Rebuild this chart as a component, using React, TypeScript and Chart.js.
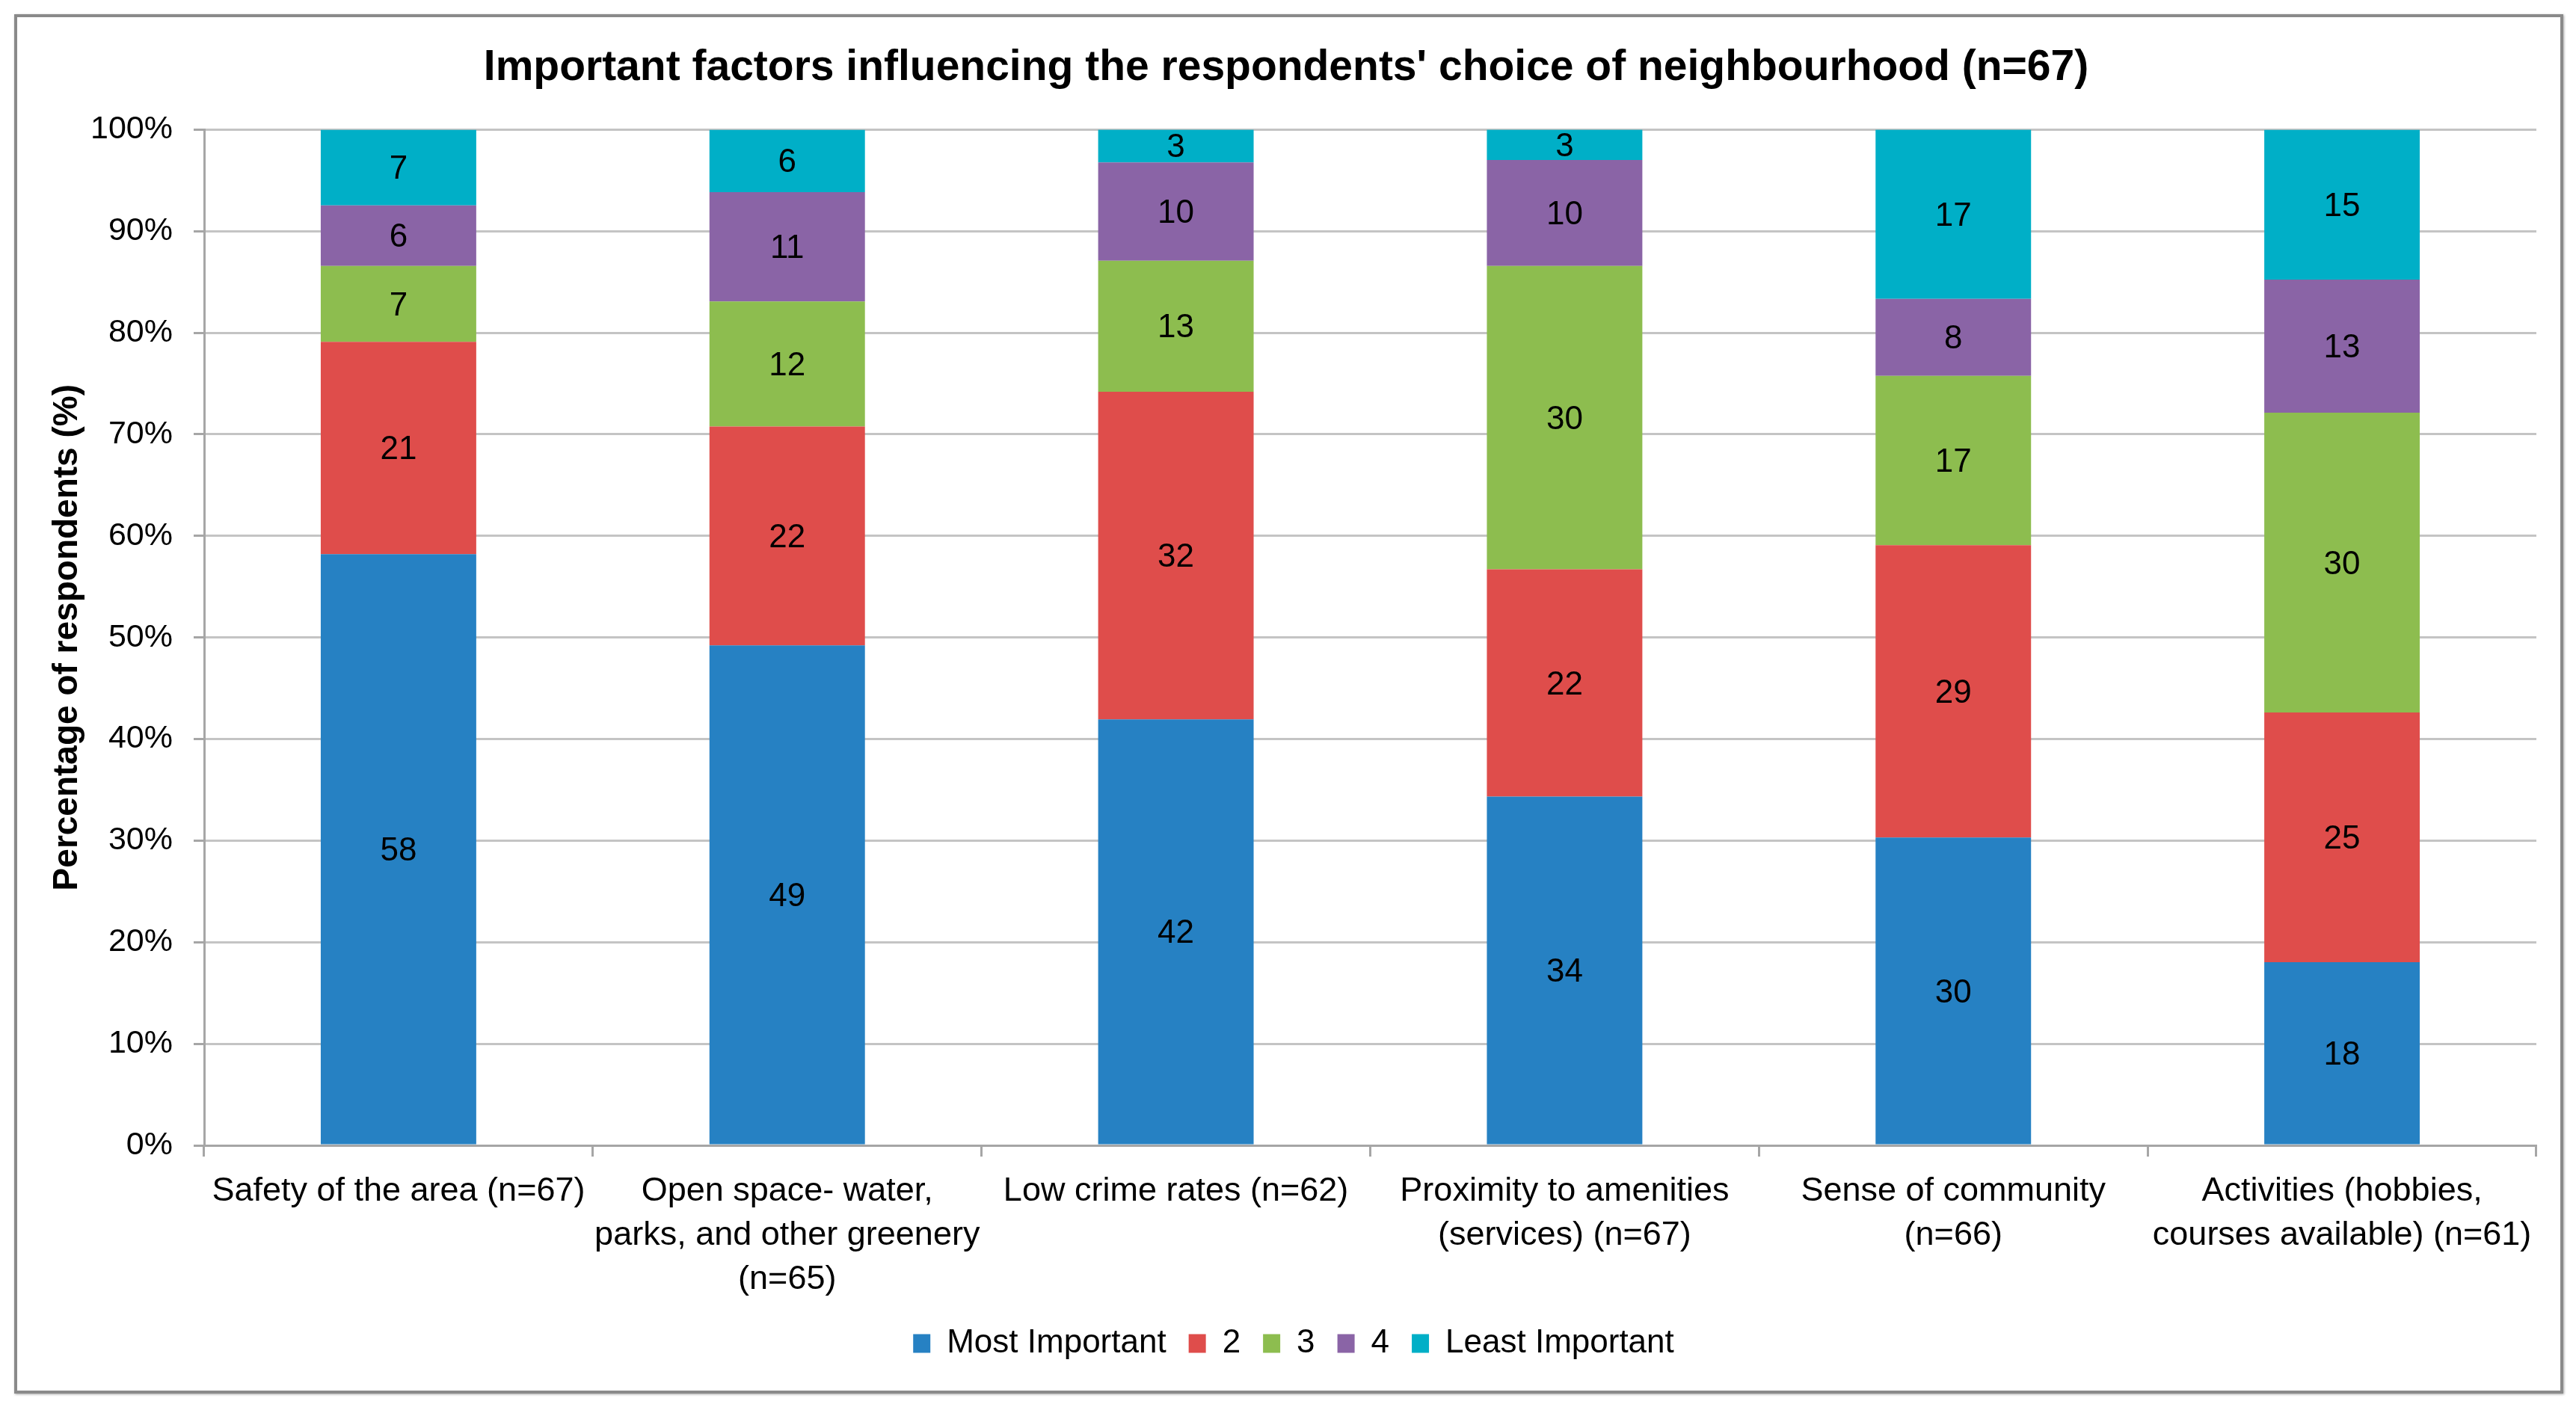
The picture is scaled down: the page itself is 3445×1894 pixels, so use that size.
import { useEffect, useRef } from "react";
import { Chart, registerables } from "chart.js";
import type { Plugin } from "chart.js";

Chart.register(...registerables);

const W = 3445;
const H = 1894;
const FONT = "'Liberation Sans', Arial, sans-serif";

const categories: (string | string[])[] = [
  "Safety of the area (n=67)",
  ["Open space- water,", "parks, and other greenery", "(n=65)"],
  "Low crime rates (n=62)",
  ["Proximity to amenities", "(services) (n=67)"],
  ["Sense of community", "(n=66)"],
  ["Activities (hobbies,", "courses available) (n=61)"],
];

// share of respondents per rank, in %
const mostImportant = [58.21, 49.23, 41.94, 34.33, 30.3, 18.03];
const rank2 = [20.9, 21.54, 32.26, 22.39, 28.79, 24.59];
const rank3 = [7.46, 12.31, 12.9, 29.85, 16.67, 29.51];
const rank4 = [5.97, 10.77, 9.68, 10.45, 7.58, 13.11];
const leastImportant = [7.46, 6.15, 3.23, 2.99, 16.67, 14.75];

const seriesNames = ["Most Important", "2", "3", "4", "Least Important"];
const seriesColors = ["#2681C3", "#DF4D4B", "#8DBD4F", "#8A64A6", "#00AFC7"];

const segmentLabels: Plugin<"bar"> = {
  id: "segmentLabels",
  afterDatasetsDraw(chart) {
    const ctx = chart.ctx;
    ctx.save();
    ctx.font = `44px ${FONT}`;
    ctx.fillStyle = "#000";
    ctx.textAlign = "center";
    ctx.textBaseline = "middle";
    chart.data.datasets.forEach((ds, i) => {
      const meta = chart.getDatasetMeta(i);
      meta.data.forEach((bar, j) => {
        const { x, y, base } = bar.getProps(["x", "y", "base"], true) as any;
        const v = ds.data[j] as number;
        ctx.fillText(String(Math.round(v)), x, (y + base) / 2 + 3);
      });
    });
    ctx.restore();
  },
};

// nudge title and legend to the frame's centre, like the original
const centreBoxes: Plugin<"bar"> = {
  id: "centreBoxes",
  afterLayout(chart) {
    const c = chart as any;
    if (c.legend) {
      c.legend.left += 24;
      c.legend.right += 24;
    }
    if (c.titleBlock) {
      c.titleBlock.left += 14;
      c.titleBlock.right += 14;
    }
  },
};

export default function App() {
  const canvasRef = useRef<HTMLCanvasElement>(null);
  const chartRef = useRef<Chart | null>(null);

  useEffect(() => {
    if (!canvasRef.current) return;
    chartRef.current?.destroy();

    const values = [mostImportant, rank2, rank3, rank4, leastImportant];
    chartRef.current = new Chart(canvasRef.current, {
      type: "bar",
      data: {
        labels: categories,
        datasets: seriesNames.map((name, i) => ({
          label: name,
          data: values[i],
          backgroundColor: seriesColors[i],
          borderWidth: 0,
          categoryPercentage: 1,
          barPercentage: 0.4,
        })),
      },
      options: {
        responsive: false,
        animation: false,
        devicePixelRatio: 1,
        layout: { padding: { top: 20, left: 20, right: 53, bottom: 65 } },
        scales: {
          x: {
            stacked: true,
            grid: {
              offset: true,
              drawOnChartArea: false,
              tickLength: 15,
              tickWidth: 3,
              tickColor: "#A6A6A6",
            },
            border: { color: "#A6A6A6", width: 3 },
            ticks: {
              color: "#000",
              padding: 17,
              maxRotation: 0,
              autoSkip: false,
              font: { family: FONT, size: 45, lineHeight: 1.31 },
            },
            afterFit: (scale) => {
              scale.height = 213;
            },
          },
          y: {
            stacked: true,
            min: 0,
            max: 100,
            grid: {
              color: "#C4C4C4",
              lineWidth: 3,
              tickLength: 14,
              tickColor: "#A6A6A6",
            },
            border: { color: "#A6A6A6", width: 3 },
            ticks: {
              stepSize: 10,
              color: "#000",
              padding: 28,
              font: { family: FONT, size: 43 },
              callback: (v) => `${v}%`,
            },
            title: {
              display: true,
              text: "Percentage of respondents (%)",
              color: "#000",
              padding: { top: 43, bottom: 0 },
              font: { family: FONT, size: 46, weight: "bold", lineHeight: 1.2 },
            },
            afterFit: (scale) => {
              scale.width = 253;
            },
          },
        },
        plugins: {
          title: {
            display: true,
            text: "Important factors influencing the respondents' choice of neighbourhood (n=67)",
            color: "#000",
            padding: { top: 37, bottom: 48 },
            font: { family: FONT, size: 57, weight: "bold", lineHeight: 1.2 },
          },
          legend: {
            position: "bottom",
            labels: {
              color: "#000",
              boxWidth: 23,
              boxHeight: 25,
              padding: 30,
              font: { family: FONT, size: 44 },
            },
          },
          tooltip: { enabled: false },
        },
      },
      plugins: [segmentLabels, centreBoxes],
    });

    return () => {
      chartRef.current?.destroy();
    };
  }, []);

  return (
    <div style={{ position: "absolute", left: 0, top: 0, width: W, height: H, background: "#fff" }}>
      <div
        style={{
          position: "absolute",
          left: 19,
          top: 19,
          width: 3409,
          height: 1845,
          boxSizing: "border-box",
          border: "4px solid #8A8A8A",
          boxShadow: "1px 1px 3px rgba(0,0,0,0.35)",
        }}
      />
      <canvas
        ref={canvasRef}
        width={W}
        height={H}
        style={{ position: "absolute", left: 0, top: 0, width: W, height: H }}
      />
    </div>
  );
}
